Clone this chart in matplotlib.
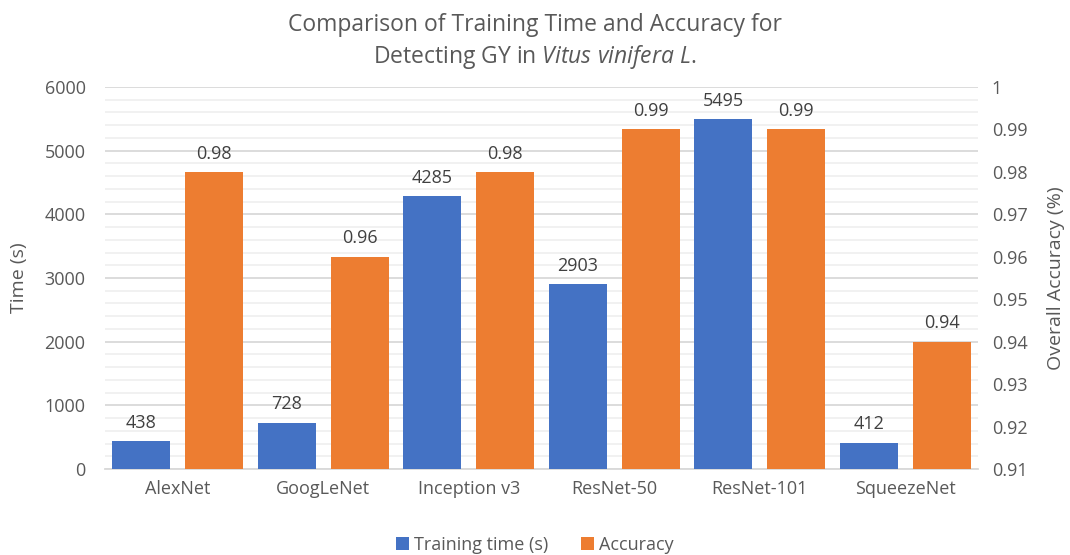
import matplotlib
matplotlib.use("Agg")
import matplotlib.pyplot as plt
import numpy as np
from matplotlib.ticker import MultipleLocator

categories = ["AlexNet", "GoogLeNet", "Inception v3", "ResNet-50", "ResNet-101", "SqueezeNet"]
train_time = [438, 728, 4285, 2903, 5495, 412]
accuracy = [0.98, 0.96, 0.98, 0.99, 0.99, 0.94]
acc_labels = ["0.98", "0.96", "0.98", "0.99", "0.99", "0.94"]

plt.rcParams['font.family'] = ['Open Sans', 'DejaVu Sans']
plt.rcParams['mathtext.fontset'] = 'custom'
plt.rcParams['mathtext.rm'] = 'Open Sans'
plt.rcParams['mathtext.it'] = 'Open Sans:italic'
grey = "#595959"
blue = "#4472C4"
orange = "#ED7D31"

fig = plt.figure(figsize=(10.7, 5.55), dpi=100)
ax = fig.add_axes([105/1070, 1-469/555, (978-105)/1070, (469-87)/555])
ax2 = ax.twinx()

x = np.arange(len(categories))
w = 0.4
off = 0.25
b1 = ax.bar(x - off, train_time, w, color=blue, zorder=3, label="Training time (s)")
b2 = ax2.bar(x + off, [a - 0.91 for a in accuracy], w, bottom=0.91, color=orange, zorder=3, label="Accuracy")

ax.set_xlim(-0.5, len(categories) - 0.5)
ax.set_ylim(0, 6000)
ax2.set_ylim(0.91, 1.0)
ax.yaxis.set_major_locator(MultipleLocator(1000))
ax.yaxis.set_minor_locator(MultipleLocator(200))
ax.grid(which="major", axis="y", color="#D9D9D9", lw=1.3, zorder=0)
ax.grid(which="minor", axis="y", color="#F0F0F0", lw=1.3, zorder=0)
ax.set_axisbelow(True)
ax2.set_yticks(np.arange(0.91, 1.0001, 0.01))
ax2.set_yticklabels(["0.91", "0.92", "0.93", "0.94", "0.95", "0.96", "0.97", "0.98", "0.99", "1"])

for a in (ax, ax2):
    for s in a.spines.values():
        s.set_visible(False)
    a.tick_params(length=0, labelsize=13, colors=grey, which="both")
ax.spines["bottom"].set_visible(True)
ax.spines["bottom"].set_color("#D9D9D9")
ax.spines["bottom"].set_linewidth(1.3)
ax.set_xticks(x)
ax.set_xticklabels(categories)
ax.tick_params(axis="x", pad=8)
ax.tick_params(axis="y", pad=14)
ax2.tick_params(axis="y", pad=10)

for xi, v in zip(x, train_time):
    ax.text(xi - off, v + 150, f"{v}", ha="center", va="bottom", fontsize=13, color="#404040")
for xi, v, lab in zip(x, accuracy, acc_labels):
    ax2.text(xi + off, v + 0.0022, lab, ha="center", va="bottom", fontsize=13, color="#404040")

ax.set_ylabel("Time (s)", fontsize=14, color=grey, labelpad=12)
ax2.set_ylabel("Overall Accuracy (%)", fontsize=14, color=grey, labelpad=14)

fig.text(0.5, 1-25/555, "Comparison of Training Time and Accuracy for", ha="center", va="center", fontsize=16.5, color=grey)
fig.text(0.5, 1-57/555, "Detecting GY in $\\mathit{Vitus\\ vinifera\\ L.}$", ha="center", va="center", fontsize=16.5, color=grey)

handles = [b1, b2]
fig.legend(handles, ["Training time (s)", "Accuracy"], loc="center", bbox_to_anchor=(0.5, 1-545/555),
           ncol=2, frameon=False, fontsize=13, handlelength=0.7, handleheight=0.7, handletextpad=0.3,
           columnspacing=1.8, labelcolor=grey)

fig.savefig("out.png", dpi=100)
